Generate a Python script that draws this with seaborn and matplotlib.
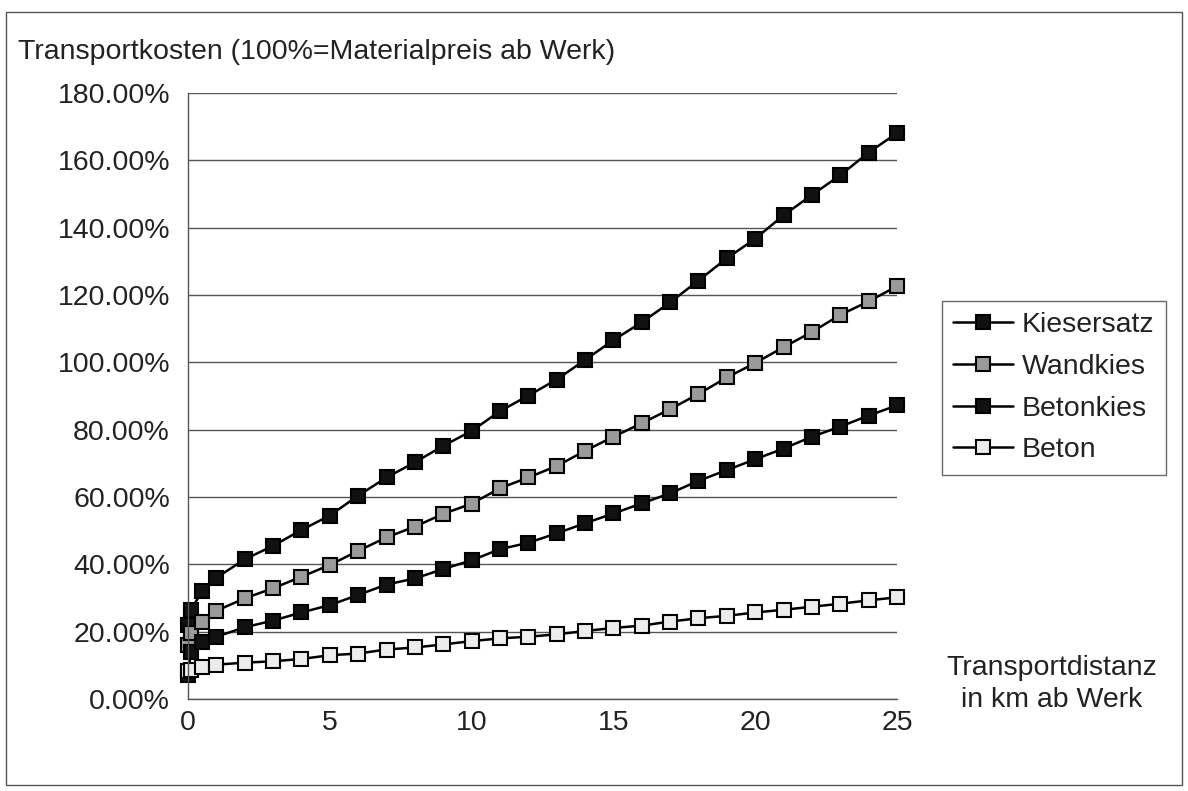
import numpy as np
import pandas as pd
import matplotlib
matplotlib.use("Agg")
import matplotlib.pyplot as plt
import seaborn as sns
from matplotlib.ticker import FuncFormatter, MultipleLocator
from matplotlib.patches import Rectangle

# distances in km ab Werk
km = [0, 0.1, 0.5] + list(range(1, 26))

kiesersatz = [22.0, 26.5, 32.0, 36.0, 41.5, 45.5, 50.2, 54.5, 60.4, 65.8,
              70.3, 75.2, 79.6, 85.5, 90.1, 94.9, 100.7, 106.6, 111.9, 117.8,
              124.3, 130.9, 136.7, 143.7, 149.7, 155.6, 162.3, 168.1]
wandkies = [16.0, 19.5, 23.0, 26.2, 29.9, 32.9, 36.3, 39.8, 44.0, 48.0,
            51.2, 55.0, 58.0, 62.6, 65.8, 69.2, 73.7, 77.9, 81.9, 86.1,
            90.6, 95.5, 99.8, 104.5, 109.0, 114.1, 118.1, 122.6]
betonkies = [7.0, 14.0, 17.0, 18.5, 21.3, 23.3, 25.7, 27.9, 30.9, 34.0,
             35.8, 38.6, 41.2, 44.5, 46.4, 49.2, 52.2, 55.1, 58.1, 61.1,
             64.8, 68.0, 71.2, 74.4, 77.9, 80.9, 84.2, 87.2]
beton = [8.2, 8.6, 9.4, 10.2, 10.8, 11.2, 11.9, 13.0, 13.5, 14.7,
         15.3, 16.2, 17.2, 18.0, 18.5, 19.2, 20.2, 21.1, 21.8, 23.0,
         24.0, 24.7, 25.7, 26.5, 27.4, 28.3, 29.3, 30.2]

series = ["Kiesersatz", "Wandkies", "Betonkies", "Beton"]
values = [kiesersatz, wandkies, betonkies, beton]
fills = ["#111111", "#9a9a9a", "#111111", "#ececec"]

sns.set_style("white")
plt.rcParams['font.family'] = ['Liberation Sans', 'DejaVu Sans']
fs = 20.5

fig = plt.figure(figsize=(11.88, 7.91), dpi=100)
ax = fig.add_axes([188 / 1188, 1 - 699 / 791, (897 - 188) / 1188, (699 - 93) / 791])

for name, vals, fc in zip(series, values, fills):
    df = pd.DataFrame({"km": km, "kosten": vals})
    sns.lineplot(data=df, x="km", y="kosten", ax=ax, label=name,
                 color="black", linewidth=1.8, marker="s", markersize=10,
                 markerfacecolor=fc, markeredgecolor="black",
                 markeredgewidth=1.5, clip_on=False)

ax.set_xlim(0, 25)
ax.set_ylim(0, 180)
ax.xaxis.set_major_locator(MultipleLocator(5))
ax.yaxis.set_major_locator(MultipleLocator(20))
ax.yaxis.set_major_formatter(FuncFormatter(lambda v, p: f"{v:.2f}%"))
ax.set_xlabel("")
ax.set_ylabel("")

ax.grid(axis="y", color="#555555", linewidth=1)
ax.grid(axis="x", visible=False)
for s in ["top", "right"]:
    ax.spines[s].set_visible(False)
for s in ["left", "bottom"]:
    ax.spines[s].set_color("#555555")
    ax.spines[s].set_linewidth(1)

ax.tick_params(axis="both", labelsize=fs, colors="#555555", labelcolor="#222222",
               direction="inout", length=12, width=1)
ax.tick_params(axis="y", pad=7)
ax.tick_params(axis="x", pad=2)

fig.text(18 / 1188, 1 - 52 / 791, "Transportkosten (100%=Materialpreis ab Werk)",
         fontsize=fs, color="#222222", va="center", ha="left")
fig.text(1052 / 1188, 1 - 668 / 791, "Transportdistanz",
         fontsize=fs, color="#222222", va="center", ha="center")
fig.text(1052 / 1188, 1 - 700 / 791, "in km ab Werk",
         fontsize=fs, color="#222222", va="center", ha="center")

leg = ax.legend(loc="upper left", bbox_to_anchor=(942 / 1188, 1 - 301 / 791),
                bbox_transform=fig.transFigure, borderaxespad=0,
                fontsize=fs, frameon=True, fancybox=False,
                handlelength=2.1, labelspacing=0.55, borderpad=0.4,
                handletextpad=0.3)
leg.get_frame().set_edgecolor("#444444")
leg.get_frame().set_linewidth(1)
for t in leg.get_texts():
    t.set_color("#222222")

fig.patches.append(Rectangle((6 / 1188, 6 / 791), 1176 / 1188, 773 / 791,
                             transform=fig.transFigure, fill=False,
                             edgecolor="#555555", linewidth=1))

fig.savefig("out.png", dpi=100)
